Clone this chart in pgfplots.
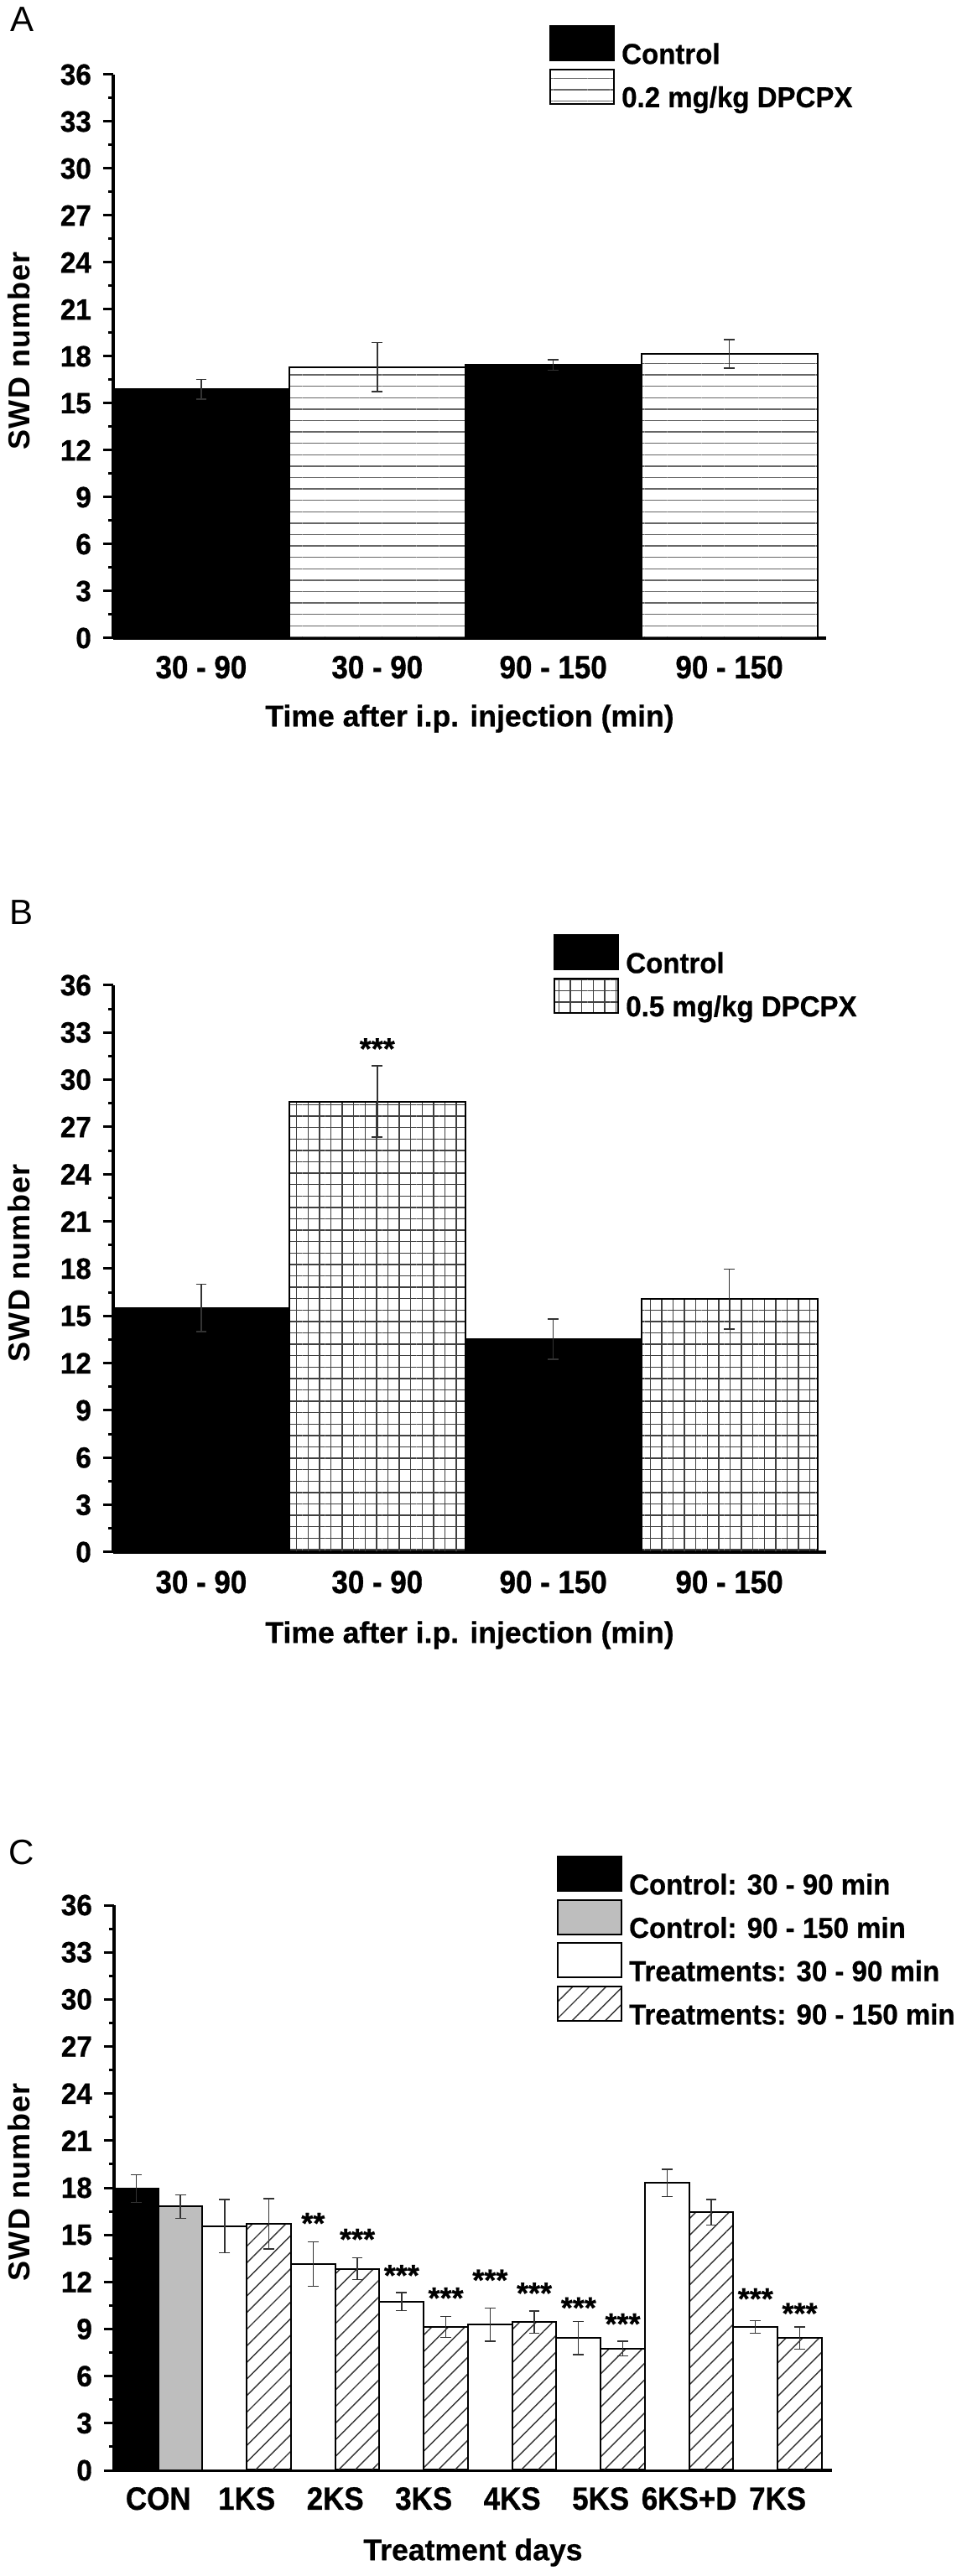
\documentclass[border=0pt]{standalone}
\usepackage{fontspec}
\setmainfont{Liberation Sans}
\newfontfamily\cbx[FakeStretch=0.91,FakeBold=0.8]{Liberation Sans Bold}
\newfontfamily\cby[FakeStretch=0.95,FakeBold=0.8]{Liberation Sans Bold}
\newfontfamily\cbl[FakeStretch=0.96,FakeBold=0.6]{Liberation Sans Bold}
\newfontfamily\cbt[FakeBold=0.6]{Liberation Sans Bold}
\newfontfamily\ylab[LetterSpace=3.5]{Liberation Sans Bold}
\usepackage{pgfplots}
\pgfplotsset{compat=1.18}
\usetikzlibrary{patterns.meta}

\pgfplotsset{
  panel/.style={
    scale only axis, clip=false,
    ymin=0, ymax=36, ytick={0,3,...,36}, minor y tick num=1,
    axis x line*=bottom, axis y line*=left,
    axis line style={line width=0.8pt},
    tick align=outside, major tick length=3pt, minor tick length=1.5pt,
    ytick style={line width=0.75pt, black},
    minor y tick style={line width=0.75pt, black},
    xtick style={draw=none},
    /pgf/number format/assume math mode=true,
    yticklabel style={font=\cby\fontsize{8.75}{10}\selectfont},
    xticklabel style={font=\cbx\fontsize{9.6}{11}\selectfont},
    xlabel style={font=\cbt\fontsize{8.9}{11}\selectfont, anchor=center},
    ylabel style={font=\ylab\fontsize{9}{11}\selectfont, anchor=center},
    ylabel={SWD number},
    legend cell align=left,
    legend style={draw=none, fill=none, inner sep=0pt, outer sep=0pt,
      row sep=1.35pt, anchor=north west,
      font=\cbl\fontsize{8.6}{10}\selectfont,
      nodes={inner xsep=2pt, inner ysep=0pt, text depth=0pt}},
    legend image code/.code={\draw[#1, line width=0.5pt] (0pt,-2.05pt) rectangle (19pt,8.2pt);},
  },
  bars/.style={ybar, bar width=1, bar shift=0pt, line width=0.5pt, draw=black,
    error bars/y dir=both, error bars/y explicit,
    error bars/error bar style={line width=0.35pt, black!80},
    error bars/error mark options={rotate=90, mark size=1.6pt, line width=0.35pt, black!80}},
  stars/.style={only marks, mark=none, nodes near coords, point meta=explicit symbolic,
    nodes near coords style={anchor=base, yshift=-5.1pt, inner sep=0pt,
      font=\cbt\fontsize{9}{10}\selectfont}},
}

\begin{document}
\begin{tikzpicture}
\path[use as bounding box] (0,0) rectangle (286.5pt,768pt);

% ---------------- Panel A ----------------
\node[font=\fontsize{10.5}{12}\selectfont] at (6.75pt,762.25pt) {A};
\begin{axis}[panel,
  at={(33.75pt,577.75pt)}, anchor=south west,
  width=212.5pt, height=168pt,
  xmin=0, xmax=4.05,
  xtick={0.5,1.5,2.5,3.5},
  xticklabels={30 - 90, 30 - 90, 90 - 150, 90 - 150},
  xticklabel style={yshift=1.25pt},
  xlabel={Time after i.p. injection (min)},
  xlabel style={at={(axis description cs:0.5,-0.143)}},
  ylabel style={at={(axis description cs:-0.1324,0.51)}},
  legend style={at={(axis description cs:0.612,1.0878)}},
]
\addplot[bars, fill=black] coordinates {
  (0.5,15.90) +- (0,0.63)
  (2.5,17.45) +- (0,0.33)
};
\addlegendentry{Control}
\addplot[bars, fill=white, pattern={Lines[angle=0,distance=3.4pt,line width=0.35pt]}, pattern color=black!60] coordinates {
  (1.5,17.32) +- (0,1.57)
  (3.5,18.16) +- (0,0.92)
};
\addlegendentry{0.2 mg/kg DPCPX}
\end{axis}

% ---------------- Panel B ----------------
\node[font=\fontsize{10.5}{12}\selectfont] at (6.5pt,496pt) {B};
\begin{axis}[panel,
  at={(33.75pt,305.25pt)}, anchor=south west,
  width=212.5pt, height=169pt,
  xmin=0, xmax=4.05,
  xtick={0.5,1.5,2.5,3.5},
  xticklabels={30 - 90, 30 - 90, 90 - 150, 90 - 150},
  xticklabel style={yshift=1.0pt},
  xlabel={Time after i.p. injection (min)},
  xlabel style={at={(axis description cs:0.5,-0.1465)}},
  ylabel style={at={(axis description cs:-0.1324,0.51)}},
  legend style={at={(axis description cs:0.618,1.09)}},
]
\addplot[bars, fill=black] coordinates {
  (0.5,15.50) +- (0,1.50)
  (2.5,13.52) +- (0,1.28)
};
\addlegendentry{Control}
\addplot[bars, fill=white, pattern={Hatch[angle=0,distance=3.4pt,line width=0.35pt]}, pattern color=black!75] coordinates {
  (1.5,28.62) +- (0,2.27)
  (3.5,16.07) +- (0,1.90)
};
\addlegendentry{0.5 mg/kg DPCPX}
\addplot[stars] coordinates {(1.5,32.4) [***]};
\end{axis}

% ---------------- Panel C ----------------
\node[font=\fontsize{10.5}{12}\selectfont] at (6.5pt,215.75pt) {C};
\begin{axis}[panel,
  at={(34pt,31.5pt)}, anchor=south west,
  width=214pt, height=168.5pt,
  xmin=0, xmax=16.23,
  xtick={1,3,5,7,9,11,13,15},
  xticklabels={CON,1KS,2KS,3KS,4KS,5KS,6KS+D,7KS},
  xticklabel style={yshift=1.5pt},
  xlabel={Treatment days},
  xlabel style={at={(axis description cs:0.5,-0.1454)}},
  ylabel style={at={(axis description cs:-0.1324,0.51)}},
  legend style={at={(axis description cs:0.617,1.0875)}},
]
\addplot[bars, fill=black] coordinates {
  (0.5,17.94) +- (0,0.88)
};
\addlegendentry{Control: 30 - 90 min}
\addplot[bars, fill={rgb,255:red,190;green,190;blue,190}] coordinates {
  (1.5,16.81) +- (0,0.75)
};
\addlegendentry{Control: 90 - 150 min}
\addplot[bars, fill=white] coordinates {
  (2.5,15.55) +- (0,1.70)
  (4.5,13.14) +- (0,1.42)
  (6.5,10.74) +- (0,0.58)
  (8.5,9.29)  +- (0,1.06)
  (10.5,8.42) +- (0,1.05)
  (12.5,18.31) +- (0,0.86)
  (14.5,9.13) +- (0,0.40)
};
\addlegendentry{Treatments: 30 - 90 min}
\addplot[bars, fill=white, pattern={Lines[angle=45,distance=3.5pt,line width=0.35pt]}, pattern color=black!80] coordinates {
  (3.5,15.71) +- (0,1.60)
  (5.5,12.84) +- (0,0.70)
  (7.5,9.13)  +- (0,0.67)
  (9.5,9.44)  +- (0,0.70)
  (11.5,7.75) +- (0,0.47)
  (13.5,16.43) +- (0,0.82)
  (15.5,8.42) +- (0,0.71)
};
\addlegendentry{Treatments: 90 - 150 min}
\addplot[stars] coordinates {
  (4.5,16.17) [**]
  (5.5,15.15) [***]
  (6.5,12.85) [***]
  (7.5,11.41) [***]
  (8.5,12.55) [***]
  (9.5,11.72) [***]
  (10.5,10.79) [***]
  (11.5,9.76) [***]
  (14.5,11.36) [***]
  (15.5,10.43) [***]
};
\end{axis}
\end{tikzpicture}
\end{document}
